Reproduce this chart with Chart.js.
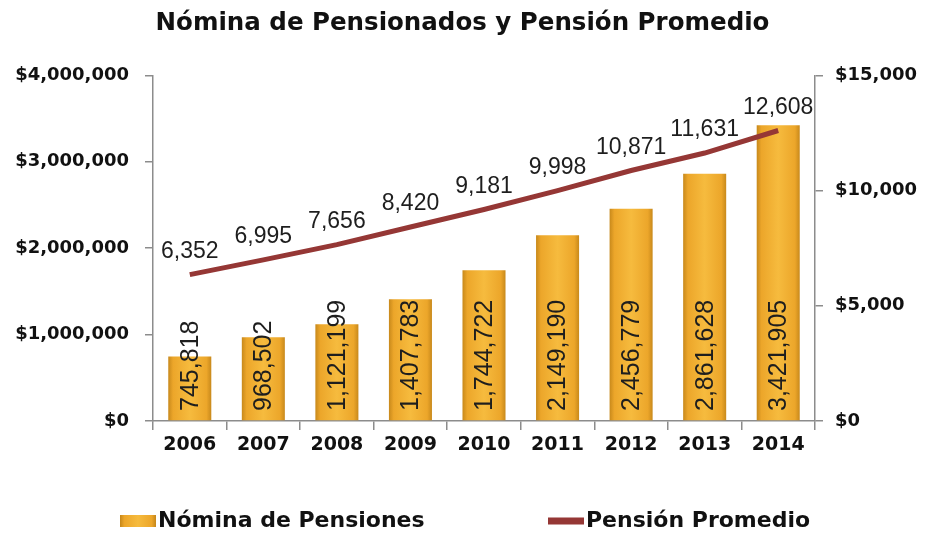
<!DOCTYPE html>
<html>
<head>
<meta charset="utf-8">
<script src="https://cdn.jsdelivr.net/npm/chart.js@4/dist/chart.umd.min.js"></script>
<style>
  html, body { margin: 0; padding: 0; background: #ffffff; }
  #wrap { width: 925px; height: 533px; position: relative; }
</style>
</head>
<body>
<div id="wrap"><canvas id="chartPensiones"></canvas></div>
<script>
// datos
const anios = ['2006', '2007', '2008', '2009', '2010', '2011', '2012', '2013', '2014'];
const nominaPensiones = [745818, 968502, 1121199, 1407783, 1744722, 2149190, 2456779, 2861628, 3421905];
const pensionPromedio = [6352, 6995, 7656, 8420, 9181, 9998, 10871, 11631, 12608];
const ticksIzq = [0, 1000000, 2000000, 3000000, 4000000];
const ticksDer = [0, 5000, 10000, 15000];

const fmt = v => v.toLocaleString('en-US');
const ROJO = '#953735';
const GRIS = '#8c8c8c';
const fuenteEje = { family: 'DejaVu Sans', size: 18, weight: 'bold' };

function degradadoBarra(c, x0, x1) {
    const g = c.createLinearGradient(x0, 0, x1, 0);
    g.addColorStop(0, '#c4861a');
    g.addColorStop(0.12, '#eca62a');
    g.addColorStop(0.5, '#f6bb3e');
    g.addColorStop(0.88, '#eca62a');
    g.addColorStop(1, '#c4861a');
    return g;
}

const etiquetas = {
    id: 'etiquetas',
    afterDatasetsDraw(chart) {
        const c = chart.ctx;
        c.save();
        c.fillStyle = '#1e1e1e';
        c.font = '25px "Liberation Sans"';
        // valores de barras, girados
        chart.getDatasetMeta(0).data.forEach((bar, i) => {
            c.save();
            c.translate(bar.x, chart.chartArea.bottom - 10);
            c.rotate(-Math.PI / 2);
            c.textAlign = 'left';
            c.textBaseline = 'middle';
            c.fillText(fmt(nominaPensiones[i]), 0, 1);
            c.restore();
        });
        // valores de la linea
        c.font = '23px "Liberation Sans"';
        c.textAlign = 'center';
        c.textBaseline = 'middle';
        chart.getDatasetMeta(1).data.forEach((pt, i) => {
            c.fillText(fmt(pensionPromedio[i]), pt.x, pt.y - 23);
        });
        c.restore();
    },
    afterDraw(chart) {
        // leyenda inferior
        const c = chart.ctx;
        const y = 521;
        c.save();
        c.fillStyle = degradadoBarra(c, 120, 156);
        c.fillRect(120, y - 6, 36, 12);
        c.fillStyle = ROJO;
        c.fillRect(548, y - 3.5, 36, 7);
        c.fillStyle = '#111';
        c.font = 'bold 22px "DejaVu Sans"';
        c.textAlign = 'left';
        c.textBaseline = 'middle';
        c.fillText(chart.data.datasets[0].label, 158, y);
        c.fillText(chart.data.datasets[1].label, 586, y);
        c.restore();
    }
};

const ctx = document.getElementById('chartPensiones').getContext('2d');
new Chart(ctx, {
    data: {
        labels: anios,
        datasets: [{
            type: 'bar',
            label: 'Nómina de Pensiones',
            data: nominaPensiones,
            yAxisID: 'y',
            order: 2,
            categoryPercentage: 1,
            barPercentage: 0.585,
            backgroundColor: context => {
                const chart = context.chart;
                if (!chart.chartArea) return '#f2b033';
                const x = chart.scales.x.getPixelForValue(context.dataIndex);
                return degradadoBarra(chart.ctx, x - 22, x + 22);
            }
        }, {
            type: 'line',
            label: 'Pensión Promedio',
            data: pensionPromedio,
            yAxisID: 'y1',
            order: 1,
            borderColor: ROJO,
            borderWidth: 5,
            pointRadius: 0,
            tension: 0
        }]
    },
    options: {
        responsive: true,
        maintainAspectRatio: false,
        animation: false,
        layout: { padding: { left: 0, right: 0, top: 0, bottom: 72 } },
        plugins: {
            legend: { display: false },
            tooltip: { enabled: false },
            title: {
                display: true,
                text: 'Nómina de Pensionados y Pensión Promedio',
                color: '#111',
                font: { family: 'DejaVu Sans', size: 24.5, weight: 'bold' },
                padding: { top: 9, bottom: 37 }
            }
        },
        scales: {
            x: {
                afterFit: s => { s.height = 40; },
                grid: { display: true, drawOnChartArea: false, offset: true, color: GRIS, tickLength: 9, lineWidth: 1.5 },
                border: { color: GRIS, width: 1.5 },
                ticks: { color: '#111', font: { family: 'DejaVu Sans', size: 19, weight: 'bold' }, padding: 4 }
            },
            y: {
                position: 'left',
                min: 0, max: 4000000,
                afterFit: s => { s.width = 153; },
                afterBuildTicks: s => { s.ticks = ticksIzq.map(v => ({ value: v })); },
                grid: { display: true, drawOnChartArea: false, color: GRIS, tickLength: 8, lineWidth: 1.5 },
                border: { color: GRIS, width: 1.5 },
                ticks: { color: '#111', font: fuenteEje, padding: 16, callback: v => '$' + fmt(v) }
            },
            y1: {
                position: 'right',
                min: 0, max: 15000,
                afterFit: s => { s.width = 110; },
                afterBuildTicks: s => { s.ticks = ticksDer.map(v => ({ value: v })); },
                grid: { display: true, drawOnChartArea: false, color: GRIS, tickLength: 8, lineWidth: 1.5 },
                border: { color: GRIS, width: 1.5 },
                ticks: { color: '#111', font: fuenteEje, padding: 12, callback: v => '$' + fmt(v) }
            }
        }
    },
    plugins: [etiquetas]
});
</script>
</body>
</html>
